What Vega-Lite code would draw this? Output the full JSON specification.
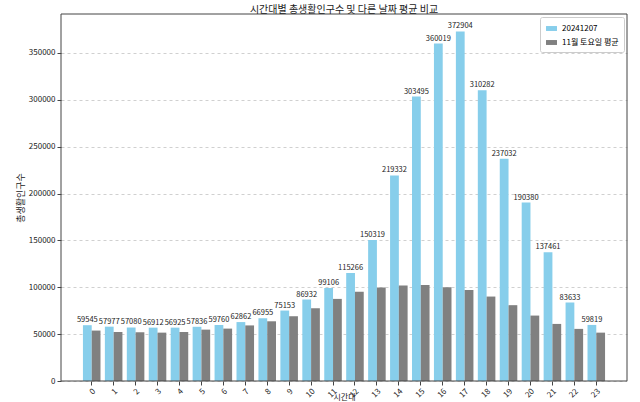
{
  "$schema": "https://vega.github.io/schema/vega-lite/v6.json",
  "width": 566,
  "height": 367,
  "autosize": {"type": "none"},
  "padding": {"left": 61, "top": 14, "right": 13, "bottom": 21},
  "title": {"text": "시간대별 총생활인구수 및 다른 날짜 평균 비교", "fontSize": 10, "fontWeight": "normal", "color": "#222", "offset": -1, "font": "Noto Sans CJK KR"},
  "config": {
    "font": "Noto Sans CJK KR",
    "view": {"stroke": null},
    "axis": {"labelColor": "#222", "titleColor": "#222", "titleFontWeight": "normal", "domainColor": "#444", "tickColor": "#444"}
  },
  "data": {
    "values": [
      {"hour": 0, "series": "20241207", "value": 59545},
      {"hour": 1, "series": "20241207", "value": 57977},
      {"hour": 2, "series": "20241207", "value": 57080},
      {"hour": 3, "series": "20241207", "value": 56912},
      {"hour": 4, "series": "20241207", "value": 56925},
      {"hour": 5, "series": "20241207", "value": 57836},
      {"hour": 6, "series": "20241207", "value": 59760},
      {"hour": 7, "series": "20241207", "value": 62862},
      {"hour": 8, "series": "20241207", "value": 66955},
      {"hour": 9, "series": "20241207", "value": 75153},
      {"hour": 10, "series": "20241207", "value": 86932},
      {"hour": 11, "series": "20241207", "value": 99106},
      {"hour": 12, "series": "20241207", "value": 115266},
      {"hour": 13, "series": "20241207", "value": 150319},
      {"hour": 14, "series": "20241207", "value": 219332},
      {"hour": 15, "series": "20241207", "value": 303495},
      {"hour": 16, "series": "20241207", "value": 360019},
      {"hour": 17, "series": "20241207", "value": 372904},
      {"hour": 18, "series": "20241207", "value": 310282},
      {"hour": 19, "series": "20241207", "value": 237032},
      {"hour": 20, "series": "20241207", "value": 190380},
      {"hour": 21, "series": "20241207", "value": 137461},
      {"hour": 22, "series": "20241207", "value": 83633},
      {"hour": 23, "series": "20241207", "value": 59819},
      {"hour": 0, "series": "11월 토요일 평균", "value": 53800},
      {"hour": 1, "series": "11월 토요일 평균", "value": 52300},
      {"hour": 2, "series": "11월 토요일 평균", "value": 52000},
      {"hour": 3, "series": "11월 토요일 평균", "value": 51600},
      {"hour": 4, "series": "11월 토요일 평균", "value": 52300},
      {"hour": 5, "series": "11월 토요일 평균", "value": 54800},
      {"hour": 6, "series": "11월 토요일 평균", "value": 55900},
      {"hour": 7, "series": "11월 토요일 평균", "value": 59300},
      {"hour": 8, "series": "11월 토요일 평균", "value": 63700},
      {"hour": 9, "series": "11월 토요일 평균", "value": 69100},
      {"hour": 10, "series": "11월 토요일 평균", "value": 77700},
      {"hour": 11, "series": "11월 토요일 평균", "value": 87600},
      {"hour": 12, "series": "11월 토요일 평균", "value": 95100},
      {"hour": 13, "series": "11월 토요일 평균", "value": 99700},
      {"hour": 14, "series": "11월 토요일 평균", "value": 101800},
      {"hour": 15, "series": "11월 토요일 평균", "value": 102300},
      {"hour": 16, "series": "11월 토요일 평균", "value": 100100},
      {"hour": 17, "series": "11월 토요일 평균", "value": 97200},
      {"hour": 18, "series": "11월 토요일 평균", "value": 90100},
      {"hour": 19, "series": "11월 토요일 평균", "value": 80900},
      {"hour": 20, "series": "11월 토요일 평균", "value": 69800},
      {"hour": 21, "series": "11월 토요일 평균", "value": 60900},
      {"hour": 22, "series": "11월 토요일 평균", "value": 55600},
      {"hour": 23, "series": "11월 토요일 평균", "value": 51600}
    ]
  },
  "layer": [
    {
      "mark": {"type": "bar"},
      "encoding": {
        "x": {
          "field": "hour", "type": "ordinal",
          "scale": {"paddingInner": 0.2, "paddingOuter": 1.05},
          "axis": {"title": "시간대", "labelAngle": -45, "labelFontSize": 8, "titleFontSize": 8, "titleY": 20, "titleBaseline": "bottom", "domain": false, "tickSize": 4}
        },
        "xOffset": {"field": "series", "type": "nominal", "scale": {"domain": ["20241207", "11월 토요일 평균"]}},
        "y": {
          "field": "value", "type": "quantitative",
          "scale": {"domain": [0, 391549], "nice": false},
          "axis": {"title": "총생활인구수", "values": [50000, 100000, 150000, 200000, 250000, 300000, 350000, 0], "format": "d", "labelFontSize": 8, "titleFontSize": 9, "grid": true, "gridDash": [3, 3], "gridColor": "#d0d0d0", "domain": false, "tickSize": 4, "titlePadding": 3}
        },
        "color": {
          "field": "series", "type": "nominal",
          "scale": {"domain": ["20241207", "11월 토요일 평균"], "range": ["#87CEEB", "#808080"]},
          "legend": {
            "title": null, "orient": "top-right", "offset": 3,
            "labelFontSize": 8, "symbolType": "M-1,-0.45H1V0.45H-1Z", "symbolSize": 120,
            "strokeColor": "#ccc", "fillColor": "white", "padding": 5, "cornerRadius": 2, "rowPadding": 3
          }
        }
      }
    },
    {
      "transform": [{"filter": "datum.series == '20241207'"}],
      "mark": {"type": "text", "dy": -5, "fontSize": 7.5, "color": "#222"},
      "encoding": {
        "x": {"field": "hour", "type": "ordinal"},
        "xOffset": {"field": "series", "type": "nominal"},
        "y": {"field": "value", "type": "quantitative"},
        "text": {"field": "value", "type": "quantitative", "format": "d"}
      }
    },
    {
      "data": {"values": [{"frame": 1}]},
      "mark": {"type": "rect", "fill": null, "fillOpacity": 0, "stroke": "#444", "strokeWidth": 1},
      "encoding": {}
    }
  ]
}
